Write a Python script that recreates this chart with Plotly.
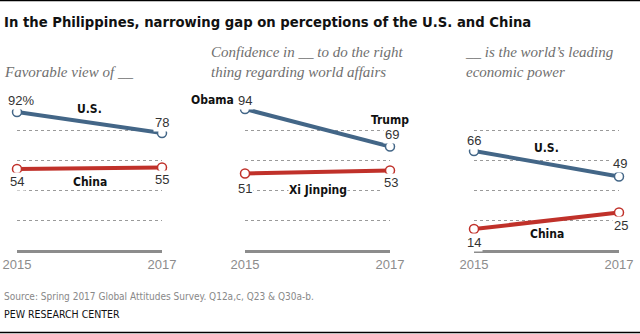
import plotly.graph_objects as go

years = [2015, 2017]
year_labels = ["2015", "2017"]

fav_us = [92, 78]
fav_china = [54, 55]
conf_us = [94, 69]
conf_china = [51, 53]
econ_us = [66, 49]
econ_china = [14, 25]

panel_titles = [
    "Favorable view of __",
    "Confidence in __ to do the right<br>thing regarding world affairs",
    "__ is the world’s leading<br>economic power",
]

BLUE = "#436687"
RED = "#c0312a"
W, H = 640, 334
TOP, BOT = 100, 250  # plot area pixel rows

def px_x(p):
    return p / W

def px_y(p):
    return (BOT - p) / (BOT - TOP)

NARROW = "Liberation Sans Narrow, DejaVu Sans Condensed, Arial Narrow, sans-serif"
SANS = "Liberation Sans, Arial, sans-serif"
SERIF = "Liberation Serif, Georgia, serif"

domains = [(17, 162), (245, 390), (474, 619)]
panels = [(fav_us, fav_china), (conf_us, conf_china), (econ_us, econ_china)]

fig = go.Figure()
for i, ((us, cn), (d0, d1)) in enumerate(zip(panels, domains)):
    xa = "x" if i == 0 else f"x{i+1}"
    ya = "y" if i == 0 else f"y{i+1}"
    for vals, col in [(us, BLUE), (cn, RED)]:
        fig.add_trace(go.Scatter(
            x=years, y=vals, xaxis=xa, yaxis=ya, mode="lines+markers",
            line=dict(color=col, width=4),
            marker=dict(size=9, color="white", line=dict(color=col, width=1.5)),
            cliponaxis=False, showlegend=False, hoverinfo="skip"))
    xk = "xaxis" if i == 0 else f"xaxis{i+1}"
    yk = "yaxis" if i == 0 else f"yaxis{i+1}"
    fig.update_layout(**{
        xk: dict(domain=[px_x(d0), px_x(d1)], range=[2015, 2017],
                 tickvals=years, ticktext=year_labels, showgrid=False,
                 zeroline=False, showline=True, linecolor="#8c8c8c", linewidth=3,
                 ticks="", tickfont=dict(family=SANS, size=13, color="#8c8c8c"),
                 anchor=ya, fixedrange=True, automargin=False),
        yk: dict(domain=[0, 1], range=[0, 100], tickvals=[20, 40, 60, 80, 100],
                 showticklabels=False, showgrid=True, gridcolor="#9a9a9a",
                 griddash="dot", gridwidth=1, zeroline=False, showline=False,
                 anchor=xa, fixedrange=True, automargin=False),
    })

ann = []

def num(xa, ya, x, y, text, xs=0, ys=0):
    ann.append(dict(xref=xa, yref=ya, x=x, y=y, text=text, showarrow=False,
                    xshift=xs, yshift=ys, bgcolor="white", borderpad=1,
                    font=dict(family=SANS, size=13, color="#333333")))

def lab(xa, ya, x, y, text, xs=0, ys=0, xanchor="center"):
    ann.append(dict(xref=xa, yref=ya, x=x, y=y, text=f"<b>{text}</b>", showarrow=False,
                    xshift=xs, yshift=ys, xanchor=xanchor, bgcolor="white", borderpad=0,
                    font=dict(family=NARROW, size=12, color="#111111")))

# Panel 1
num("x", "y", years[0], fav_us[0], f"{fav_us[0]}%", xs=4, ys=12)
num("x", "y", years[1], fav_us[1], str(fav_us[1]), ys=11)
num("x", "y", years[0], fav_china[0], str(fav_china[0]), ys=-12)
num("x", "y", years[1], fav_china[1], str(fav_china[1]), ys=-12)
lab("x", "y", 2016, 94, "U.S.")
lab("x", "y", 2016, 45.3, "China")
# Panel 2
num("x2", "y2", years[0], conf_us[0], str(conf_us[0]), ys=9)
lab("x2", "y2", years[0], conf_us[0], "Obama", xs=-10, ys=9, xanchor="right")
num("x2", "y2", years[1], conf_us[1], str(conf_us[1]), xs=2, ys=12)
lab("x2", "y2", years[1], conf_us[1], "Trump", ys=27)
num("x2", "y2", years[0], conf_china[0], str(conf_china[0]), ys=-15)
num("x2", "y2", years[1], conf_china[1], str(conf_china[1]), xs=1, ys=-12)
lab("x2", "y2", 2016, 40, "Xi Jinping")
# Panel 3
num("x3", "y3", years[0], econ_us[0], str(econ_us[0]), ys=11)
num("x3", "y3", years[1], econ_us[1], str(econ_us[1]), xs=1, ys=13)
num("x3", "y3", years[0], econ_china[0], str(econ_china[0]), ys=-13)
num("x3", "y3", years[1], econ_china[1], str(econ_china[1]), xs=2, ys=-13)
lab("x3", "y3", 2016, 68, "U.S.")
lab("x3", "y3", 2016, 10.7, "China")

# Panel subtitles
sub_x = [2, 209, 463]
for t, sx in zip(panel_titles, sub_x):
    ann.append(dict(xref="paper", yref="paper", x=px_x(sx), y=px_y(82),
                    xanchor="left", yanchor="bottom", align="left", showarrow=False,
                    text=t, font=dict(family=SERIF, size=15, color="#6f6f6f", style="italic")))

# Title and footer
ann.append(dict(xref="paper", yref="paper", x=px_x(2), y=px_y(21), xanchor="left",
                yanchor="middle", showarrow=False,
                text="<b>In the Philippines, narrowing gap on perceptions of the U.S. and China</b>",
                font=dict(family=NARROW, size=14.7, color="#111111")))
ann.append(dict(xref="paper", yref="paper", x=px_x(2), y=px_y(296), xanchor="left",
                yanchor="middle", showarrow=False,
                text="Source: Spring 2017 Global Attitudes Survey. Q12a,c, Q23 & Q30a-b.",
                font=dict(family=NARROW, size=10, color="#888888")))
ann.append(dict(xref="paper", yref="paper", x=px_x(2), y=px_y(314), xanchor="left",
                yanchor="middle", showarrow=False, text="PEW RESEARCH CENTER",
                font=dict(family=NARROW, size=10.5, color="#111111")))

shapes = [
    dict(type="line", xref="paper", yref="paper", x0=0, x1=1, y0=px_y(0.5), y1=px_y(0.5),
         line=dict(color="black", width=1.5)),
    dict(type="line", xref="paper", yref="paper", x0=0, x1=1, y0=px_y(332.5), y1=px_y(332.5),
         line=dict(color="black", width=1.5)),
]

fig.update_layout(width=W, height=H,
                  margin=dict(l=0, r=0, t=TOP, b=H - BOT, pad=0, autoexpand=False),
                  paper_bgcolor="white", plot_bgcolor="white",
                  annotations=ann, shapes=shapes, showlegend=False)

fig.write_html("out.html", config={"displayModeBar": False})
